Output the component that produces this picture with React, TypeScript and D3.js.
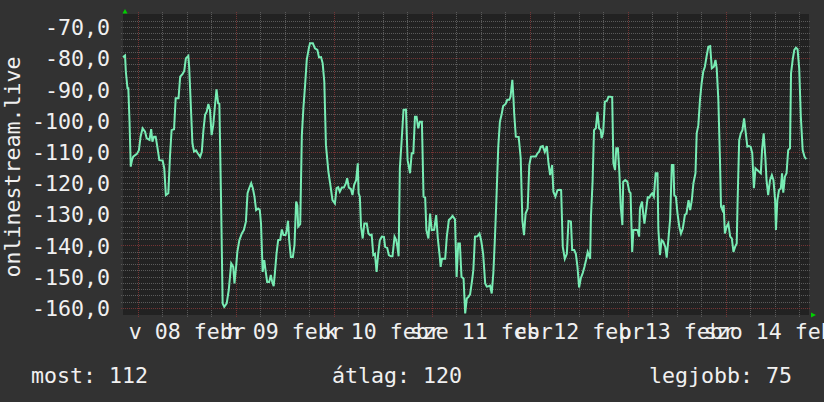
import React from 'react';
import * as d3 from 'd3';

// rank history of one week, stored as [hours since start, value]
const startTime = new Date(2015, 1, 7, 20, 15);
const spanHours = 168;

const yDomain: [number, number] = [-162.1, -65.7];
const yTickValues = [-70, -80, -90, -100, -110, -120, -130, -140, -150, -160];
const majorGridValues = [-80, -110, -140, -160];
const dayNames = ['v', 'h', 'k', 'sze', 'cs', 'p', 'szo'];
const monthName = 'febr';
const axisTitle = 'onlinestream.live';
const legendLabels = ['most', 'átlag', 'legjobb'];
const legendValues = [112, 120, 75];

const series: [number, number][] = [
    [0, -79.5], [0.5, -79], [0.7, -84.2], [1.1, -89.5], [1.3, -89.5], [1.6, -100.2], [1.9, -114.6], [2.2, -112.5],
    [2.5, -111.4], [3.4, -110.5], [3.9, -109.3], [4.3, -105], [4.8, -102.3], [5.4, -103.4], [5.8, -105.5], [6.5, -106],
    [6.9, -102.6], [7.2, -106.6], [7.6, -105], [8.0, -105], [8.4, -108.2], [8.9, -112.5], [9.7, -112.6], [10.1, -115.1],
    [10.5, -123.7], [11.1, -123.1], [11.5, -111.4], [11.9, -102.9], [12.5, -102.6], [12.9, -92.7], [13.6, -92.7], [14.0, -85.8],
    [14.6, -84.9], [15.0, -83.9], [15.4, -79.9], [16.0, -79.1], [16.2, -82.6], [16.5, -91.6], [17.0, -107.1], [17.4, -109.8],
    [17.9, -109.4], [18.3, -110.3], [18.9, -111.4], [19.3, -109.8], [19.7, -102.9], [20.1, -98], [20.5, -97], [20.9, -94.5],
    [21.3, -96.4], [21.7, -104.5], [22.1, -101.3], [22.5, -95.4], [22.9, -89.8], [23.3, -94.3], [23.6, -94.5], [24.0, -124.2],
    [24.4, -158.4], [24.8, -159.5], [25.4, -158.4], [25.9, -154.1], [26.5, -145.6], [27.0, -146.7], [27.3, -152], [27.7, -146.7],
    [28.0, -141.9], [28.5, -138.1], [29.1, -136], [29.6, -134.9], [30.1, -132.2], [30.5, -123.1], [30.9, -121.5], [31.4, -119.9],
    [31.8, -121.5], [32.2, -124.2], [32.6, -128.5], [33.1, -128], [33.5, -128.5], [33.8, -132.8], [34.2, -148.3], [34.6, -144.5],
    [34.9, -147.7], [35.3, -151.5], [35.8, -151.5], [36.2, -149.3], [36.5, -151.3], [36.9, -152.9], [37.2, -148.6], [37.6, -142.4],
    [38.0, -138.1], [38.5, -138], [38.9, -134.7], [39.3, -136.5], [39.8, -136.5], [40.1, -135], [40.4, -131.9], [40.7, -138.1],
    [41.1, -143.5], [41.6, -143.5], [42.0, -139.7], [42.4, -125.8], [42.7, -127], [42.9, -133.8], [43.4, -133], [43.8, -104.5],
    [44.2, -95.4], [44.6, -88.4], [45.0, -80.4], [45.5, -76.7], [45.8, -75.1], [46.5, -75.1], [47.0, -76.7], [47.6, -77.2],
    [48.0, -79.6], [48.5, -79.5], [48.9, -81.5], [49.3, -87.4], [49.7, -107.7], [50.3, -116.2], [50.9, -121.5], [51.3, -125.3],
    [51.9, -126.4], [52.3, -121.5], [52.7, -121.2], [53.1, -122.6], [53.6, -121.3], [54.1, -121.3], [54.6, -119.9], [54.9, -118.3],
    [55.3, -121.3], [55.8, -121.7], [56.2, -123.7], [56.6, -120.5], [57.1, -118.9], [57.5, -113.5], [57.7, -123.1], [58.0, -124.2],
    [58.3, -133.8], [58.7, -137.6], [59.1, -132.8], [59.7, -132.8], [60.1, -136], [60.5, -136.5], [60.9, -136.4], [61.3, -142.9],
    [61.7, -142.5], [62.1, -148.3], [62.5, -142.5], [62.9, -138.1], [63.4, -137], [63.9, -137.1], [64.2, -140.3], [64.7, -140.6],
    [65.1, -142.9], [65.6, -143.3], [66.0, -143.3], [66.5, -137], [66.9, -138.1], [67.2, -140.3], [67.5, -143.3], [67.8, -115.1],
    [68.2, -107.1], [68.7, -96.4], [69.3, -96.3], [69.7, -112.5], [70.3, -116.7], [70.7, -110.3], [71.1, -110.3], [71.5, -98.6],
    [71.9, -98.6], [72.3, -102.3], [72.7, -100.2], [73.2, -100.2], [73.6, -124.2], [74.0, -124.5], [74.3, -134.9], [74.8, -137.6],
    [75.2, -129.6], [75.6, -134.9], [76.2, -134.8], [76.7, -130.1], [77.1, -137.6], [77.5, -142.5], [77.8, -146.7], [78.1, -144.1],
    [78.9, -144.1], [79.3, -137], [79.8, -131.7], [80.2, -131.2], [80.7, -130.4], [81.3, -131.5], [81.7, -149.9], [82.1, -139.2],
    [82.5, -139.2], [82.9, -149.9], [83.4, -150.4], [83.8, -161.6], [84.2, -156.8], [84.6, -156.3], [85.0, -155.5], [85.5, -150.9],
    [85.8, -147.7], [86.2, -137], [86.8, -136.9], [87.3, -136], [87.7, -138.1], [88.2, -142.5], [88.7, -152], [89.1, -153],
    [89.5, -152.9], [89.9, -152.7], [90.3, -155.2], [90.7, -148.6], [91.1, -137], [91.5, -123.1], [91.9, -108.2], [92.3, -100.2],
    [92.7, -98], [93.1, -95.2], [93.7, -94.5], [94.1, -93.2], [94.6, -93.2], [94.9, -92.2], [95.35, -86.8], [95.6, -92.2],
    [95.8, -97.5], [96.2, -105], [96.9, -105.1], [97.4, -111.9], [97.8, -131.7], [98.2, -136.5], [98.6, -129.6], [99.1, -128],
    [99.5, -114.1], [99.9, -111.4], [100.5, -111.3], [101.1, -111.3], [101.5, -110.3], [101.9, -109.8], [102.3, -108.2], [102.8, -108],
    [103.3, -109.9], [103.8, -108], [104.2, -113.5], [104.6, -117.3], [105.1, -114.1], [105.4, -122.6], [105.9, -124.2], [106.4, -122.1],
    [106.9, -122], [107.3, -122.1], [107.7, -140.3], [108.2, -144.1], [108.7, -142.5], [109.1, -132], [109.7, -132.2], [110.0, -141.3],
    [110.5, -141.3], [110.9, -142.5], [111.3, -146.7], [111.7, -153.3], [112.1, -150.4], [112.6, -148.6], [113.0, -146.7], [113.4, -144.5],
    [113.8, -141.9], [114.4, -144.1], [114.6, -130.6], [115.0, -119.4], [115.35, -102.9], [115.8, -102.3], [116.2, -97], [116.6, -102.3],
    [117.0, -102.9], [117.2, -105.5], [117.6, -103.6], [118.0, -93.8], [118.5, -93.5], [118.9, -92.2], [119.3, -92.2], [119.8, -92.3],
    [120.1, -113.5], [120.5, -115.7], [120.8, -108.7], [121.2, -108.7], [121.55, -116.2], [121.9, -127.4], [122.3, -133.3], [122.5, -119.4],
    [123.0, -118.9], [123.5, -119.4], [124.0, -122.6], [124.3, -123.1], [124.7, -141.9], [125.0, -134.9], [125.5, -134.8], [126.0, -134.9],
    [126.4, -137], [126.6, -128], [127.1, -125.8], [127.4, -129.6], [127.7, -132.8], [128.1, -128.5], [128.5, -124.4], [128.9, -124.5],
    [129.2, -123.7], [129.6, -123.1], [130.0, -124.2], [130.45, -116.7], [130.9, -116.7], [131.1, -134.4], [131.5, -142.9], [131.9, -138.1],
    [132.3, -138.6], [132.8, -140.3], [133.15, -143.7], [133.55, -138.1], [134.0, -131.2], [134.4, -114.1], [134.8, -114.1], [135.0, -123.7],
    [135.4, -124.2], [135.8, -129.6], [136.25, -133.9], [136.65, -136], [137.1, -134.4], [137.6, -130.1], [138.0, -129.6], [138.5, -125.3],
    [138.9, -128.5], [139.3, -125.3], [139.7, -119.9], [140.2, -116.7], [140.5, -103.9], [140.9, -101.3], [141.3, -93.2], [141.7, -87.9],
    [142.1, -84.2], [142.5, -82.6], [142.9, -79.4], [143.35, -76.2], [143.8, -76], [144.2, -83.1], [144.7, -82.6], [145.1, -80.4],
    [145.4, -83.1], [145.8, -93.2], [146.2, -112.5], [146.45, -127.4], [146.8, -128.5], [147.1, -126.9], [147.4, -136], [147.8, -133.9],
    [148.25, -132.8], [148.7, -137], [149.1, -137.6], [149.5, -141.9], [149.9, -140.3], [150.3, -139.2], [150.5, -126.4], [150.9, -106.1],
    [151.3, -103.9], [151.7, -102.9], [152.1, -99.1], [152.5, -103.6], [152.9, -108.2], [153.3, -108], [153.7, -108.2], [154.1, -110.3],
    [154.5, -121.5], [154.9, -115.1], [155.35, -115.7], [155.8, -116.2], [156.2, -116.7], [156.5, -109.3], [156.9, -103.9], [157.3, -111.4],
    [157.6, -118.9], [158.0, -123.7], [158.45, -118.9], [158.9, -117.3], [159.3, -118.9], [159.7, -125.3], [159.9, -134.9], [160.25, -125.3],
    [160.65, -122.1], [161.1, -121.5], [161.4, -116.7], [161.7, -122.9], [162.1, -117.8], [162.5, -116.7], [162.9, -109.3], [163.35, -108.7],
    [163.6, -84.7], [164.0, -80.4], [164.4, -77.2], [164.8, -76.5], [165.2, -77], [165.6, -83.1], [166.0, -98.6], [166.45, -109.3],
    [166.9, -111.4], [167.3, -112.2]
];

const width = 824;
const height = 402;
const plot = { left: 123, right: 809, top: 14, bottom: 315 };

const atHour = (h: number) => new Date(startTime.getTime() + h * 3600 * 1000);
const huLocale = d3.formatLocale({ decimal: ',', thousands: ' ', grouping: [3], currency: ['', ''], minus: '-' });
const fmtY = huLocale.format('.1f');

const App: React.FC = () => {
    const endTime = atHour(spanHours);
    const xScale = d3.scaleTime().domain([startTime, endTime]).range([plot.left, plot.right]);
    const yScale = d3.scaleLinear().domain(yDomain).range([plot.bottom, plot.top]);

    const midnights = d3.timeDay.range(startTime, endTime);
    const sixHours = d3.timeHour.every(6)!.range(startTime, endTime).filter(d => d.getHours() !== 0);
    const minorY = d3.range(-160, -67, 2).filter(v => !majorGridValues.includes(v));

    const line = d3.line<[number, number]>()
        .x(d => xScale(atHour(d[0])))
        .y(d => yScale(d[1]));

    const font = "'DejaVu Sans Mono', monospace";
    const textSize = 21.6;

    return (
        <svg width={width} height={height} style={{ position: 'absolute', left: 0, top: 0 }} fontFamily={font}>
            <rect width={width} height={height} fill="#323232" />
            <rect x={plot.left} y={plot.top} width={plot.right - plot.left} height={plot.bottom - plot.top} fill="#222222" />

            {/* grid */}
            <g strokeWidth={1} strokeDasharray="1,1" shapeRendering="crispEdges">
                {minorY.map(v => (
                    <line key={'hy' + v} x1={plot.left - 2} x2={plot.right + 2} y1={yScale(v)} y2={yScale(v)} stroke="#5a5a5a" />
                ))}
                {sixHours.map(d => (
                    <line key={'vx' + d.getTime()} x1={xScale(d)} x2={xScale(d)} y1={plot.top - 2} y2={plot.bottom + 2} stroke="#5a5a5a" />
                ))}
                {majorGridValues.map(v => (
                    <line key={'my' + v} x1={plot.left - 2} x2={plot.right + 2} y1={yScale(v)} y2={yScale(v)} stroke="#743434" />
                ))}
                {midnights.map(d => (
                    <line key={'mx' + d.getTime()} x1={xScale(d)} x2={xScale(d)} y1={plot.top - 2} y2={plot.bottom + 3} stroke="#743434" />
                ))}
            </g>

            {/* data */}
            <path d={line(series) || ''} fill="none" stroke="#78ecb4" strokeWidth={2} strokeLinejoin="miter" />

            {/* arrows */}
            <path d={`M${plot.left - 0.5},${plot.top - 0.5} L${plot.left + 4.5},${plot.top - 0.5} L${plot.left + 2},${plot.top - 5} Z`} fill="#00d000" />
            <path d={`M${plot.right + 2},${plot.bottom - 2.5} L${plot.right + 2},${plot.bottom + 2.5} L${plot.right + 7},${plot.bottom} Z`} fill="#00d000" />

            {/* y axis labels */}
            <g fill="#f0f0f0" fontSize={textSize} textAnchor="end">
                {yTickValues.map(v => (
                    <text key={v} x={110} y={yScale(v) + 7.7}>{fmtY(v)}</text>
                ))}
            </g>
            <text
                x={20}
                y={167}
                transform="rotate(-90, 20, 167)"
                textAnchor="middle"
                fill="#f0f0f0"
                fontSize={textSize}
            >
                {axisTitle}
            </text>

            {/* x axis labels, centred on noon */}
            <g fill="#f0f0f0" fontSize={textSize} textAnchor="middle">
                {midnights.map(d => {
                    const noon = d3.timeHour.offset(d, 12);
                    const label = `${dayNames[d.getDay()]} ${d3.timeFormat('%d')(d)} ${monthName}`;
                    return <text key={d.getTime()} x={xScale(noon)} y={338.5}>{label}</text>;
                })}
            </g>

            {/* legend */}
            <g fill="#f0f0f0" fontSize={textSize}>
                <text x={31} y={383}>{`${legendLabels[0]}: ${legendValues[0]}`}</text>
                <text x={332} y={383}>{`${legendLabels[1]}: ${legendValues[1]}`}</text>
                <text x={792} y={383} textAnchor="end">{`${legendLabels[2]}: ${legendValues[2]}`}</text>
            </g>
        </svg>
    );
};

export default App;
